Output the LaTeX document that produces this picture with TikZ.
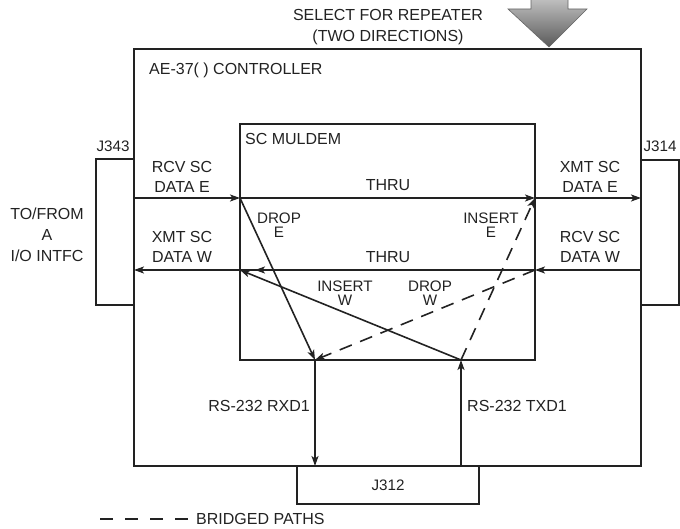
\documentclass[tikz,border=0pt]{standalone}
\usepackage{fontspec}
\setmainfont{Liberation Sans}
\usetikzlibrary{arrows.meta}
\definecolor{ink}{HTML}{222222}
\begin{document}
\begin{tikzpicture}[x=1pt,y=-1pt,
  box/.style={draw=ink, line width=1.6pt, inner sep=0pt, outer sep=0pt},
  lbl/.style={font=\fontsize{16}{20}\selectfont, text=ink, inner sep=0pt, align=center},
  smalllbl/.style={font=\fontsize{15.2}{14}\selectfont, text=ink, inner sep=0pt, align=center},
  conn/.style={draw=ink, line width=1.6pt, -{Stealth[length=10pt,width=7pt,inset=2.5pt]}},
  plainline/.style={draw=ink, line width=1.6pt},
  dsh/.style={dash pattern=on 13pt off 9pt}]
\useasboundingbox (0,0) rectangle (680,529);

% boxes
\node[box, minimum width=507pt, minimum height=417pt] (ctrl) at (387.5,257.5) {};
\node[box, minimum width=295pt, minimum height=236pt] (muldem) at (387.5,242) {};
\node[box, minimum width=38pt, minimum height=146pt] (j343) at (115,232) {};
\node[box, minimum width=38pt, minimum height=145pt] (j314) at (660,232.5) {};
\node[box, minimum width=182pt, minimum height=38pt, font=\fontsize{15.2}{18}\selectfont, text=ink] (j312) at (388,485) {J312};

% big select arrow
\shade[top color=black!25, bottom color=black!65, draw=black!60, line width=0.6pt]
  (531,-1) -- (568,-1) -- (568,9) -- (587,9) -- (549,47) -- (508,9) -- (531,9) -- cycle;

% junctions
\coordinate (lE) at (134,198);
\coordinate (iNW) at (240,198);
\coordinate (iNE) at (535,198);
\coordinate (rE) at (641,198);
\coordinate (rW) at (641,270);
\coordinate (iSE) at (535,270);
\coordinate (iSW) at (240,270);
\coordinate (lW) at (134,270);
\coordinate (rx) at (315,360);
\coordinate (tx) at (461,360);
\coordinate (rxb) at (315,466);
\coordinate (txb) at (461,466);

% horizontal paths
\draw[conn] (lE) -- (iNW);
\draw[conn] (iNW) -- (iNE);
\draw[conn] (iNE) -- (rE);
\draw[conn] (rW) -- (iSE);
\draw[conn] (iSE) -- (lW);
\draw[conn, shorten >=15pt] (iSE) -- (iSW);

% drop / insert paths
\draw[conn] (iNW) -- (rx);
\draw[conn, dsh] (iSE) -- (rx);
\draw[conn] (tx) -- (iSW);
\draw[conn, dsh] (tx) -- (iNE);

% RS-232
\draw[conn] (rx) -- (rxb);
\draw[conn] (txb) -- (tx);

% labels
\node[lbl, font=\fontsize{16}{21}\selectfont] (t1) at (388,27) {SELECT FOR REPEATER\\(TWO DIRECTIONS)};
\node[lbl, anchor=west] (t2) at (149,70) {AE-37( ) CONTROLLER};
\node[lbl, anchor=west] (t3) at (245,139) {SC MULDEM};
\node[smalllbl] (t4) at (113,146) {J343};
\node[smalllbl] (t5) at (660,146) {J314};
\node[lbl] (t6) at (182,177) {RCV SC\\DATA E};
\node[lbl] (t7) at (182,247) {XMT SC\\DATA W};
\node[lbl] (t8) at (590,176.5) {XMT SC\\DATA E};
\node[lbl] (t9) at (590,247) {RCV SC\\DATA W};
\node[lbl, font=\fontsize{16}{21}\selectfont] (t10) at (47,235) {TO/FROM\\A\\I/O INTFC};
\node[lbl] (t11) at (388,185) {THRU};
\node[lbl] (t12) at (388,257) {THRU};
\node[smalllbl] (t13) at (279,225) {DROP\\E};
\node[smalllbl] (t14) at (491,225) {INSERT\\E};
\node[smalllbl] (t15) at (345,293.5) {INSERT\\W};
\node[smalllbl] (t16) at (430,293.5) {DROP\\W};
\node[lbl, anchor=east] (t17) at (310,406) {RS-232 RXD1};
\node[lbl, anchor=west] (t18) at (467,406) {RS-232 TXD1};

% legend
\coordinate (lg1) at (100,519);
\coordinate (lg2) at (193,519);
\draw[plainline, dash pattern=on 13pt off 12pt] (lg1) -- (lg2);
\node[lbl, anchor=west] (t19) at (196,519) {BRIDGED PATHS};
\end{tikzpicture}
\end{document}
